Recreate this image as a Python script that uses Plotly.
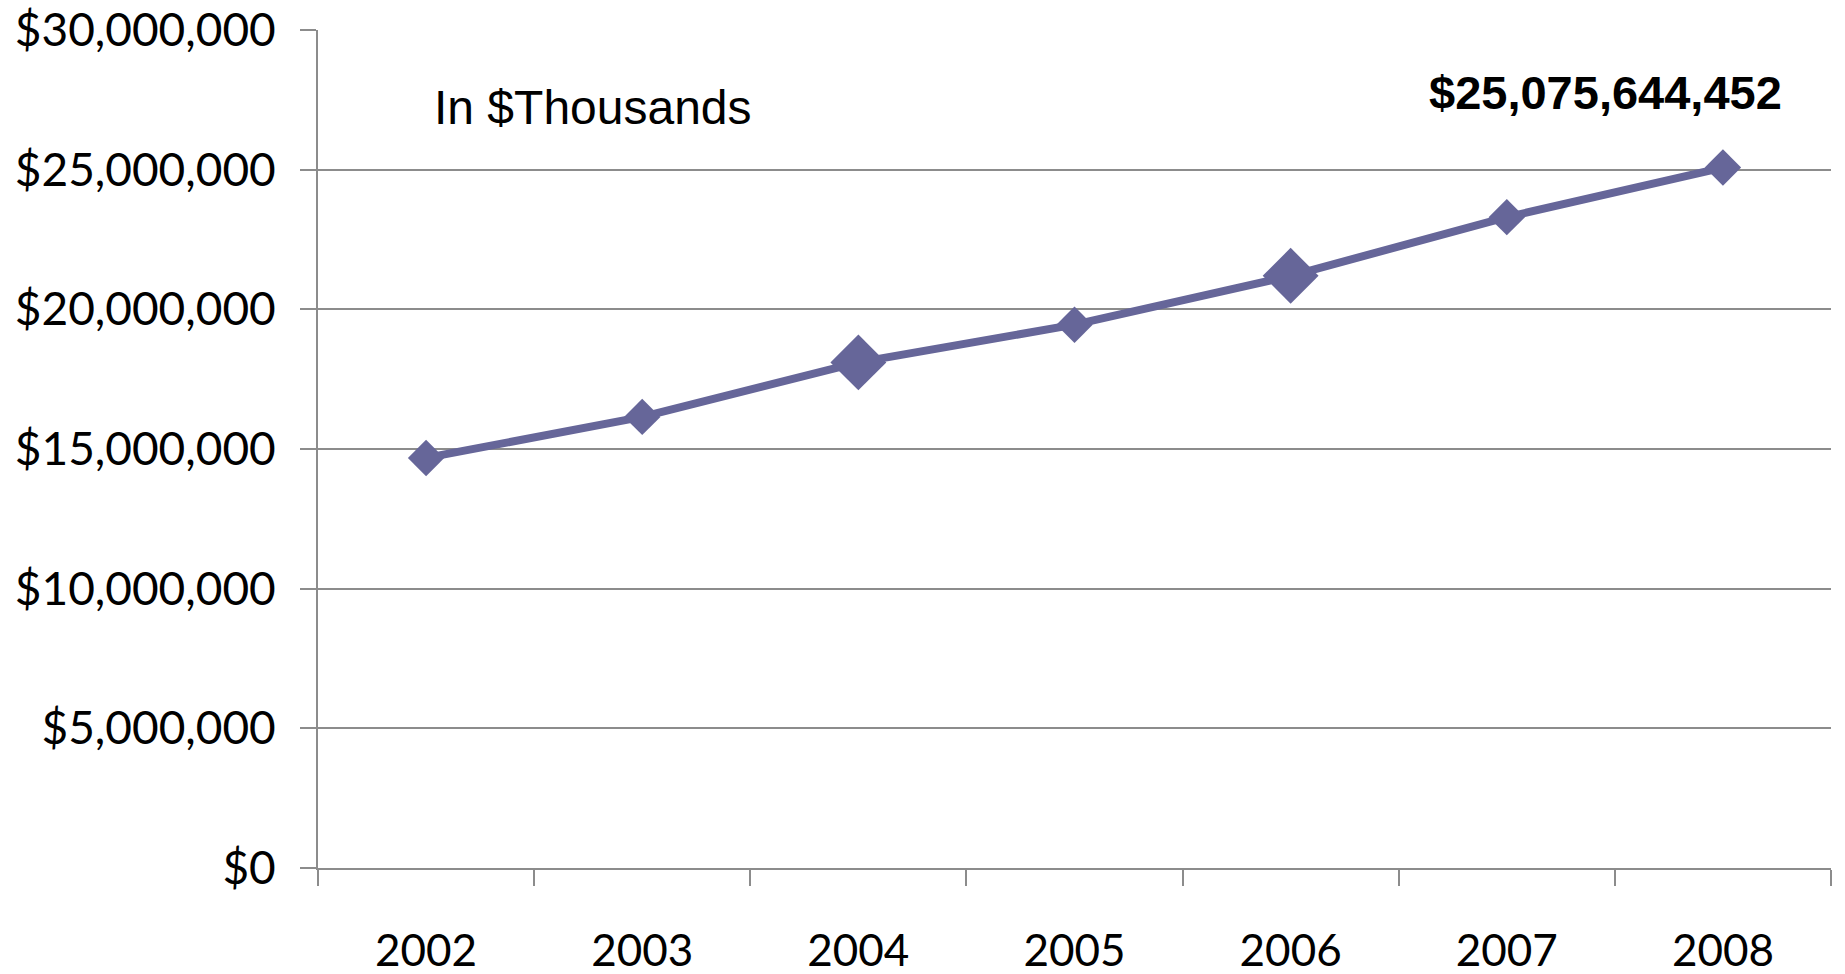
import plotly.graph_objects as go

years = ["2002", "2003", "2004", "2005", "2006", "2007", "2008"]
values = [14680000, 16150000, 18100000, 19450000, 21200000, 23300000, 25075644]
marker_sizes = [28, 28, 43, 28, 43, 28, 28]
ytick_vals = [0, 5000000, 10000000, 15000000, 20000000, 25000000, 30000000]
ytick_text = ["$0", "$5,000,000", "$10,000,000", "$15,000,000", "$20,000,000", "$25,000,000", "$30,000,000"]
note_text = "In $Thousands"
total_text = "$25,075,644,452"

color = "#666699"
grid = "#8c8c8c"

fig = go.Figure()
fig.add_trace(go.Scatter(
    x=years, y=values, mode="lines+markers",
    line=dict(color=color, width=8),
    marker=dict(symbol="diamond", size=marker_sizes, color=color, opacity=1,
                line=dict(width=0)),
    opacity=1,
    showlegend=False,
))

fig.update_layout(
    width=1845, height=974,
    margin=dict(l=318, r=14, t=30, b=106, autoexpand=False),
    paper_bgcolor="white", plot_bgcolor="white",
    font=dict(family="Lato", size=45, color="black"),
    xaxis=dict(
        type="category", range=[-0.5, 6.5], tickson="boundaries",
        ticks="outside", ticklen=16, tickwidth=2, tickcolor=grid,
        showline=True, linecolor=grid, linewidth=2, automargin=False,
        showgrid=False, ticklabelstandoff=43,
        tickfont=dict(family="Lato", size=44, color="black"),
    ),
    yaxis=dict(
        range=[0, 30000000], tickvals=ytick_vals, ticktext=ytick_text,
        ticks="outside", ticklen=16, tickwidth=2, tickcolor=grid,
        showline=True, linecolor=grid, linewidth=2, automargin=False,
        showgrid=True, gridcolor=grid, gridwidth=2,
        zeroline=False, ticklabelstandoff=15, ticklabeloverflow="allow",
        tickfont=dict(family="Lato", size=46, color="black"),
    ),
    annotations=[
        dict(text=note_text, xref="paper", yref="paper", x=0.0754, y=0.907,
             xanchor="left", yanchor="middle", showarrow=False,
             font=dict(family="Liberation Sans", size=48, color="black")),
        dict(text="<b>" + total_text + "</b>", xref="paper", yref="paper", x=0.851, y=0.925,
             xanchor="center", yanchor="middle", showarrow=False,
             font=dict(family="Liberation Sans Narrow, Liberation Sans", size=47, color="black")),
    ],
)

fig.write_html("out.html", config={"displayModeBar": False},
               post_script="document.body.style.margin='0';")
